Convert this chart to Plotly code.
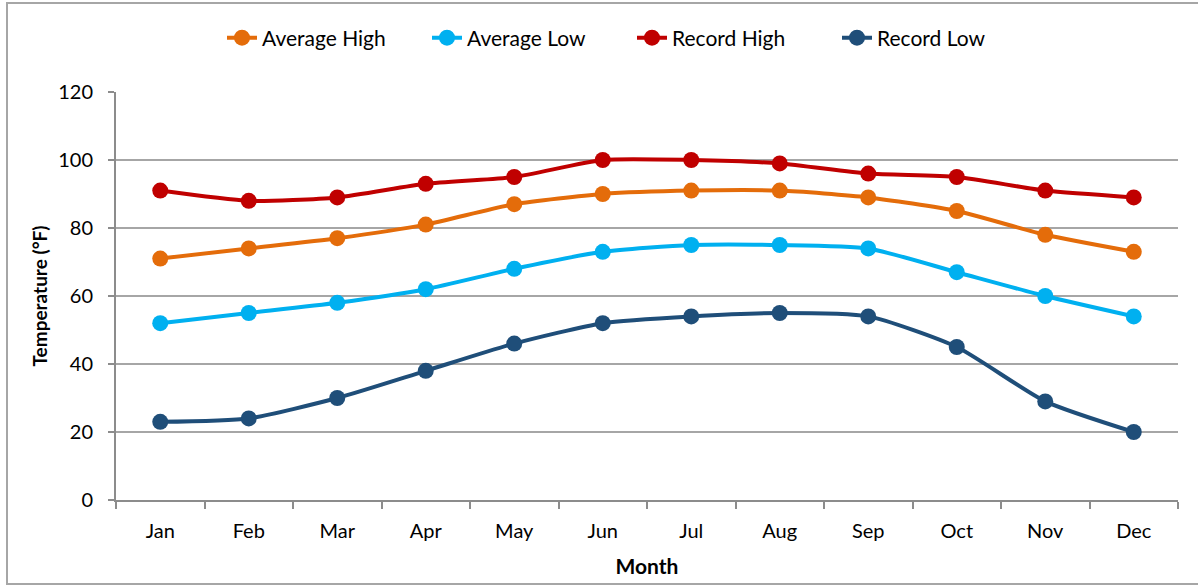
import plotly.graph_objects as go

# Monthly temperature normals and records (°F)
months = ["Jan", "Feb", "Mar", "Apr", "May", "Jun",
          "Jul", "Aug", "Sep", "Oct", "Nov", "Dec"]
avg_high = [71, 74, 77, 81, 87, 90, 91, 91, 89, 85, 78, 73]
avg_low = [52, 55, 58, 62, 68, 73, 75, 75, 74, 67, 60, 54]
record_high = [91, 88, 89, 93, 95, 100, 100, 99, 96, 95, 91, 89]
record_low = [23, 24, 30, 38, 46, 52, 54, 55, 54, 45, 29, 20]
y_ticks = [0, 20, 40, 60, 80, 100, 120]

series = [
    ("Average High", avg_high, "#E46C0A"),
    ("Average Low", avg_low, "#00B0F0"),
    ("Record High", record_high, "#C00000"),
    ("Record Low", record_low, "#1F4E79"),
]

FONT = "Lato, Open Sans, sans-serif"
W, H = 1198, 586
L, R, T, B = 116, 20, 92, 86
pw, ph = W - L - R, H - T - B

def px_x(p):
    return (p - L) / pw

def px_y(p):
    return (H - B - p) / ph

fig = go.Figure()
for name, vals, color in series:
    fig.add_trace(go.Scatter(
        x=months, y=vals, name=name, mode="lines+markers",
        line=dict(color=color, width=4, shape="spline", smoothing=0.6),
        marker=dict(color=color, size=16),
    ))

# outer chart frame
fig.add_shape(type="rect", xref="paper", yref="paper",
              x0=px_x(7), x1=px_x(1210), y0=px_y(584), y1=px_y(3),
              line=dict(color="#A6A6A6", width=2), layer="below")

fig.update_layout(
    width=W, height=H,
    margin=dict(l=L, r=R, t=T, b=B),
    plot_bgcolor="white", paper_bgcolor="white",
    font=dict(family=FONT, size=20, color="#000000"),
    showlegend=True,
    legend=dict(orientation="h", x=px_x(632), xanchor="center",
                y=px_y(38), yanchor="middle",
                font=dict(size=21), entrywidth=160, entrywidthmode="pixels",
                bgcolor="rgba(0,0,0,0)"),
    xaxis=dict(
        type="category", showline=True, linecolor="#8C8C8C", linewidth=2,
        ticks="outside", tickson="boundaries", ticklen=7,
        tickcolor="#8C8C8C", tickwidth=2, showgrid=False,
        tickfont=dict(size=20), ticklabelstandoff=12, range=[-0.5, 11.5],
        title=dict(text="<b>Month</b>", font=dict(size=21), standoff=18),
    ),
    yaxis=dict(
        range=[0, 120], tickvals=y_ticks, showline=True,
        linecolor="#8C8C8C", linewidth=2, ticks="outside", ticklen=6,
        tickcolor="#8C8C8C", tickwidth=2, showgrid=True,
        gridcolor="#A6A6A6", gridwidth=1.5, zeroline=False,
        tickfont=dict(size=20), ticklabelstandoff=11,
        title=dict(text="<b>Temperature (°F)</b>", font=dict(size=19),
                   standoff=6),
    ),
)

fig.write_html("out.html")
